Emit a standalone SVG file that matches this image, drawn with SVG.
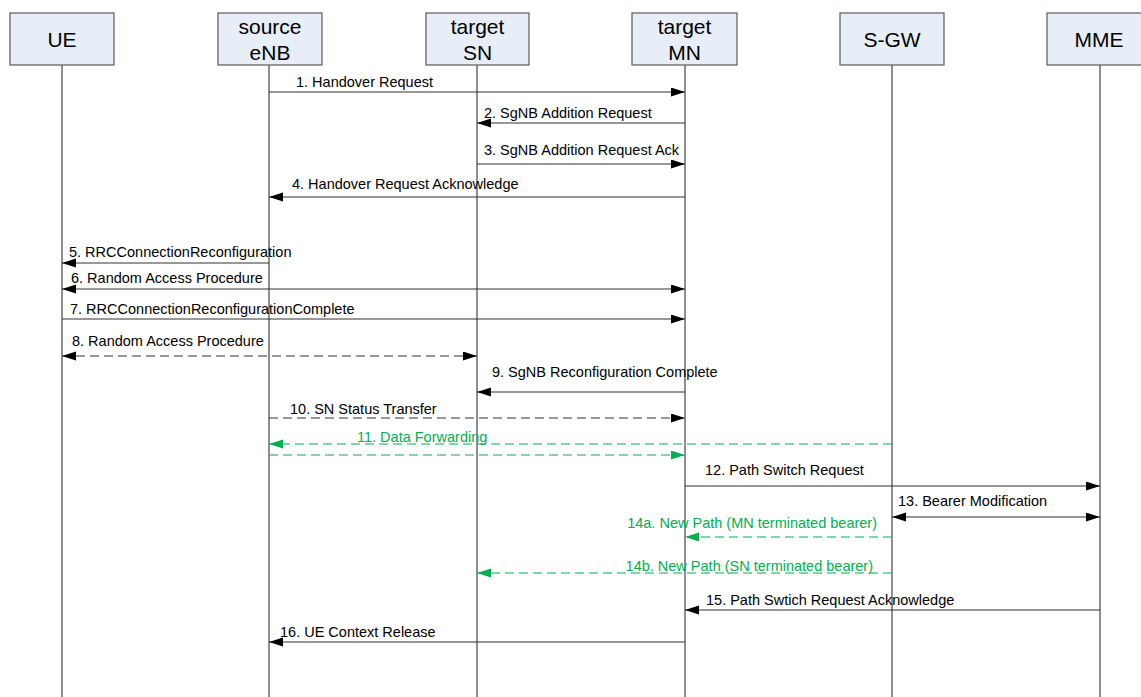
<svg xmlns="http://www.w3.org/2000/svg" width="1141" height="697" viewBox="0 0 1141 697">
<style>
.box{fill:#E8EEF8;stroke:#5a5a5a;stroke-width:1.2}
.bt{font-family:"Liberation Sans",Arial,sans-serif;font-size:21px;fill:#000;text-anchor:middle}
.life{stroke:#444;stroke-width:1.2}
.msg{stroke:#333;stroke-width:1.2;fill:none}
.g{stroke:#00B050}
.d{stroke-dasharray:9,5}
.lb{font-family:"Liberation Sans",Arial,sans-serif;font-size:14.5px;fill:#000}
.lg{fill:#00B050}
</style>
<defs>
<marker id="ab" markerUnits="userSpaceOnUse" markerWidth="15" markerHeight="10" refX="14" refY="4.5" orient="auto-start-reverse"><path d="M0,0 L14,4.5 L0,9 z" fill="#000" stroke="none"/></marker>
<marker id="ag" markerUnits="userSpaceOnUse" markerWidth="15" markerHeight="10" refX="14" refY="4.5" orient="auto-start-reverse"><path d="M0,0 L14,4.5 L0,9 z" fill="#00B050" stroke="none"/></marker>
</defs>
<rect width="1141" height="697" fill="#fff"/>
<g id="UE"><line class="life" x1="62" y1="65" x2="62" y2="697"/><rect class="box" x="10" y="13" width="104" height="52"/><text class="bt" x="62" y="46.5">UE</text></g>
<g id="sourceeNB"><line class="life" x1="269" y1="65" x2="269" y2="697"/><rect class="box" x="218" y="13" width="104" height="52"/><text class="bt" x="270" y="34">source</text><text class="bt" x="270" y="59.5">eNB</text></g>
<g id="targetSN"><line class="life" x1="477" y1="65" x2="477" y2="697"/><rect class="box" x="426" y="13" width="103" height="52"/><text class="bt" x="477.5" y="34">target</text><text class="bt" x="477.5" y="59.5">SN</text></g>
<g id="targetMN"><line class="life" x1="685" y1="65" x2="685" y2="697"/><rect class="box" x="632" y="13" width="105" height="52"/><text class="bt" x="684.5" y="34">target</text><text class="bt" x="684.5" y="59.5">MN</text></g>
<g id="SGW"><line class="life" x1="892" y1="65" x2="892" y2="697"/><rect class="box" x="840" y="13" width="104" height="52"/><text class="bt" x="892" y="46.5">S-GW</text></g>
<g id="MME"><line class="life" x1="1100" y1="65" x2="1100" y2="697"/><rect class="box" x="1047" y="13" width="104" height="52"/><text class="bt" x="1099" y="46.5">MME</text></g>
<g id="connectors">
<line class="msg" x1="269" y1="92" x2="685" y2="92" marker-end="url(#ab)"/>
<text class="lb" x="296" y="87">1. Handover Request</text>
<line class="msg" x1="685" y1="123" x2="477" y2="123" marker-end="url(#ab)"/>
<text class="lb" x="484" y="118">2. SgNB Addition Request</text>
<line class="msg" x1="477" y1="164" x2="685" y2="164" marker-end="url(#ab)"/>
<text class="lb" x="484" y="155">3. SgNB Addition Request Ack</text>
<line class="msg" x1="685" y1="197" x2="269" y2="197" marker-end="url(#ab)"/>
<text class="lb" x="292" y="189">4. Handover Request Acknowledge</text>
<line class="msg" x1="269" y1="263" x2="62" y2="263" marker-end="url(#ab)"/>
<text class="lb" x="69" y="257">5. RRCConnectionReconfiguration</text>
<line class="msg" x1="62" y1="289" x2="685" y2="289" marker-start="url(#ab)" marker-end="url(#ab)"/>
<text class="lb" x="71" y="283">6. Random Access Procedure</text>
<line class="msg" x1="62" y1="319" x2="685" y2="319" marker-end="url(#ab)"/>
<text class="lb" x="70" y="314">7. RRCConnectionReconfigurationComplete</text>
<line class="msg d" x1="62" y1="356" x2="477" y2="356" marker-start="url(#ab)" marker-end="url(#ab)"/>
<text class="lb" x="72" y="346">8. Random Access Procedure</text>
<line class="msg" x1="685" y1="392" x2="477" y2="392" marker-end="url(#ab)"/>
<text class="lb" x="492" y="377">9. SgNB Reconfiguration Complete</text>
<line class="msg d" x1="269" y1="418" x2="685" y2="418" marker-end="url(#ab)"/>
<text class="lb" x="290" y="414">10. SN Status Transfer</text>
<line class="msg g d" x1="892" y1="444" x2="269" y2="444" marker-end="url(#ag)"/>
<line class="msg g d" x1="269" y1="455" x2="685" y2="455" marker-end="url(#ag)"/>
<text class="lb lg" x="357" y="442">11. Data Forwarding</text>
<line class="msg" x1="685" y1="486" x2="1100" y2="486" marker-end="url(#ab)"/>
<text class="lb" x="705" y="475">12. Path Switch Request</text>
<line class="msg" x1="892" y1="517" x2="1100" y2="517" marker-start="url(#ab)" marker-end="url(#ab)"/>
<text class="lb" x="898" y="506">13. Bearer Modification</text>
<line class="msg g d" x1="892" y1="537" x2="685" y2="537" marker-end="url(#ag)"/>
<text class="lb lg" x="877" y="528" text-anchor="end">14a. New Path (MN terminated bearer)</text>
<line class="msg g d" x1="892" y1="573" x2="477" y2="573" marker-end="url(#ag)"/>
<text class="lb lg" x="873" y="571" text-anchor="end">14b. New Path (SN terminated bearer)</text>
<line class="msg" x1="1100" y1="610" x2="685" y2="610" marker-end="url(#ab)"/>
<text class="lb" x="706" y="605">15. Path Swtich Request Acknowledge</text>
<line class="msg" x1="685" y1="642" x2="269" y2="642" marker-end="url(#ab)"/>
<text class="lb" x="280" y="637">16. UE Context Release</text>
</g>
</svg>
